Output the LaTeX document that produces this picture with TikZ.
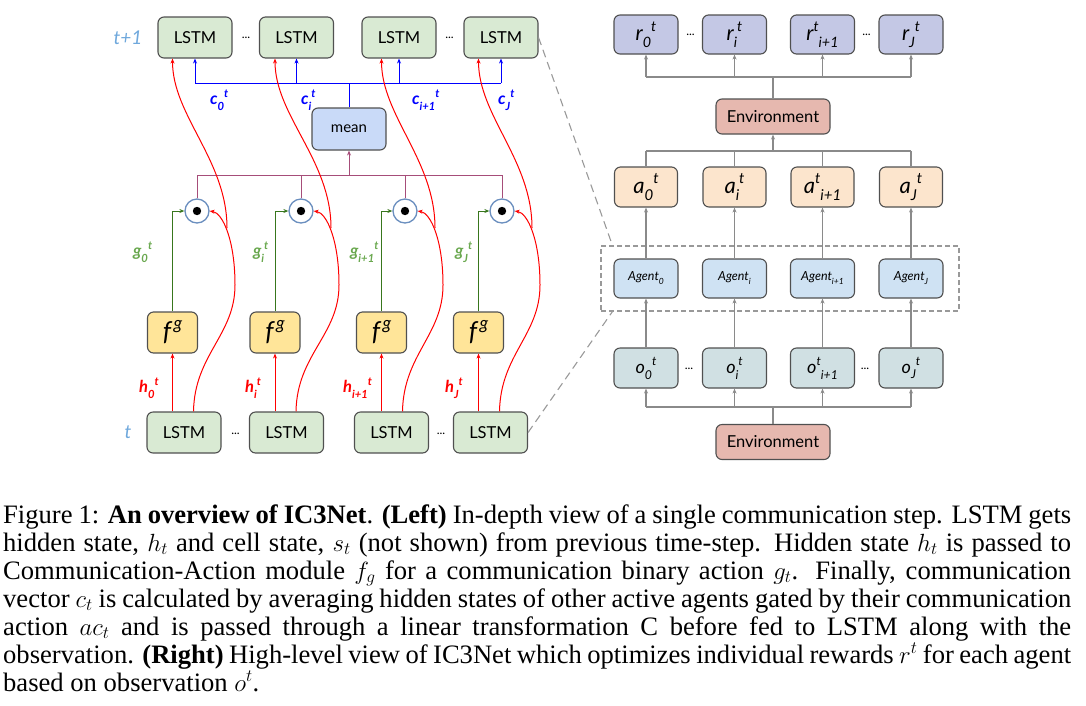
\documentclass[tikz,border=0pt]{standalone}
\usepackage{fontspec}
\usepackage{graphicx}
\setmainfont{Liberation Serif}
\newfontfamily\lato{Lato}
\usetikzlibrary{arrows.meta,calc}
\definecolor{lstmc}{HTML}{D9EAD3}
\definecolor{fgc}{HTML}{FFE599}
\definecolor{meanc}{HTML}{C9DAF8}
\definecolor{rc}{HTML}{C4C8E5}
\definecolor{ac}{HTML}{FCE5CD}
\definecolor{agc}{HTML}{CFE2F3}
\definecolor{oc}{HTML}{D0E0E3}
\definecolor{envc}{HTML}{E6B8AF}
\definecolor{bord}{HTML}{505050}
\definecolor{tlab}{HTML}{6FA8DC}
\definecolor{bluel}{HTML}{0000FF}
\definecolor{greenl}{HTML}{38761D}
\definecolor{greenlab}{HTML}{6AA84F}
\definecolor{redl}{HTML}{FF0000}
\definecolor{purpl}{HTML}{A64D79}
\definecolor{circc}{HTML}{6B8FBF}
\definecolor{grayl}{HTML}{8A8A8A}
\definecolor{dashc}{HTML}{999999}
\newcommand\SubSup[3]{#1\raisebox{-0.32em}{\scalebox{0.68}{#2}}\raisebox{0.45em}{\scalebox{0.68}{#3}}}
\newcommand\SupSub[3]{#1\raisebox{0.45em}{\scalebox{0.68}{#2}}\raisebox{-0.32em}{\scalebox{0.68}{#3}}}
\newcommand\FG{f\kern2.5pt\raisebox{0.42em}{\scalebox{0.68}{g}}}
\newcommand\capline[1]{\makebox[1068pt][s]{#1}}
\begin{document}
\begin{tikzpicture}[x=1pt,y=-1pt,
  bx/.style={draw=bord, line width=1.1pt, rounded corners=6pt, inner sep=0pt, font=\lato\fontsize{16.5}{18}\selectfont},
  lstmbox/.style={bx, fill=lstmc, minimum width=74pt, minimum height=41pt},
  fgbox/.style={bx, fill=fgc, minimum width=50pt, minimum height=41pt, font=\lato\itshape\fontsize{26}{28}\selectfont},
  meanbox/.style={bx, fill=meanc, minimum width=74pt, minimum height=42pt, font=\lato\fontsize{15}{17}\selectfont},
  rbox/.style={bx, fill=rc, minimum width=64pt, minimum height=39pt, font=\lato\itshape\fontsize{21}{23}\selectfont},
  abox/.style={bx, fill=ac, minimum width=63pt, minimum height=40pt, font=\lato\itshape\fontsize{22}{24}\selectfont},
  agbox/.style={bx, fill=agc, minimum width=64pt, minimum height=39pt, font=\lato\itshape\fontsize{12.5}{14}\selectfont},
  obox/.style={bx, fill=oc, minimum width=64pt, minimum height=40pt, font=\lato\itshape\fontsize{18}{20}\selectfont},
  envbox/.style={bx, fill=envc, minimum width=114pt, minimum height=35pt},
  odot/.style={circle, draw=circc, line width=1.3pt, fill=white, minimum size=24pt, inner sep=0pt},
  arr/.style={-{Stealth[length=5pt,width=4pt]}},
  dots/.style={font=\lato\fontsize{12}{12}\selectfont, inner sep=0pt},
  tl/.style={font=\lato\itshape\fontsize{19}{20}\selectfont, text=tlab, inner sep=0pt},
  clab/.style={font=\lato\bfseries\itshape\fontsize{16.5}{18}\selectfont, text=bluel, anchor=west, inner sep=0pt},
  glab/.style={font=\lato\bfseries\itshape\fontsize{16.5}{18}\selectfont, text=greenlab, anchor=west, inner sep=0pt},
  hlab/.style={font=\lato\bfseries\itshape\fontsize{16.5}{18}\selectfont, text=redl, anchor=west, inner sep=0pt},
  bline/.style={draw=bluel, line width=1pt},
  pline/.style={draw=purpl, line width=1pt},
  gline/.style={draw=greenl, line width=1pt},
  rline/.style={draw=redl, line width=1pt},
  gyline/.style={draw=grayl, line width=1.1pt},
  dline/.style={draw=dashc, line width=1.1pt, dash pattern=on 8pt off 5pt},
  capt/.style={anchor=base west, inner sep=0pt, font=\fontsize{26.6}{28}\selectfont}
]
\useasboundingbox (0,0) rectangle (1086,705);

% ---------------- Left part ----------------
\foreach \k/\xt/\xc/\xf/\xb in {0/195/197/172.5/184, 1/296.5/301/275/286.5, 2/399/405/381.5/391.5, 3/501/502/478.5/490.5} {
  \node[lstmbox] (T\k) at (\xt,37.5) {LSTM};
  \node[odot] (C\k) at (\xc,211) {};
  \node[fgbox] (F\k) at (\xf,332.5) {\FG};
  \node[lstmbox] (B\k) at (\xb,432.5) {LSTM};
}
\node[meanbox] (M) at (349,129) {mean};

\node[tl] (tp1) at (128,37.5) {t+1};
\node[tl] (tt) at (128,432.5) {t};
\node[dots] (d1) at (246,37.5) {...};
\node[dots] (d2) at (449.5,37.5) {...};
\node[dots] (d3) at (235.5,434) {...};
\node[dots] (d4) at (441,434) {...};

% blue bus
\coordinate (bbus) at (349,83);
\draw[bline] (M.north) -- (bbus);
\draw[bline] (T0 |- bbus) -- (T3 |- bbus);
% purple bus
\coordinate (pbus) at (349,175);
\draw[pline] (C0 |- pbus) -- (C3 |- pbus);
\draw[pline, arr] (pbus) -- (M.south);

\foreach \k in {0,1,2,3} {
  \draw[bline, arr] (T\k |- bbus) -- (T\k.south);
  \draw[pline] (C\k.north) -- (C\k |- pbus);
  \fill (C\k) circle (4.2pt);
  \draw[gline, arr] (F\k.north) |- (C\k.west);
  \draw[rline, arr] (B\k.north -| F\k) -- (F\k.south);
  \coordinate (ha\k) at ($(B\k.north -| F\k)+(21,0)$);
  \coordinate (bu\k) at ($(C\k)+(38,74)$);
  \coordinate (hb\k) at ($(C\k)+(30,17)$);
  \draw[rline, arr] (ha\k) .. controls +(1,-57) and +(0,50) .. (bu\k) .. controls +(0,-45) and +(13,2) .. (C\k.east);
  \draw[rline, arr] (hb\k) .. controls +(0,-68) and +(0,57) .. (T\k.south -| F\k);
}

\node[clab] (lc0) at (210,100) {\SubSup{c}{0}{t}};
\node[clab] (lc1) at (301,100) {\SubSup{c}{i}{t}};
\node[clab] (lc2) at (412,100) {\SubSup{c}{i+1}{t}};
\node[clab] (lc3) at (498,100) {\SubSup{c}{J}{t}};

\node[glab] (lg0) at (133,252) {\SubSup{g}{0}{t}};
\node[glab] (lg1) at (253,252) {\SubSup{g}{i}{t}};
\node[glab] (lg2) at (350,252) {\SubSup{g}{i+1}{t}};
\node[glab] (lg3) at (455,252) {\SubSup{g}{J}{t}};

\node[hlab] (lh0) at (139,388) {\SubSup{h}{0}{t}};
\node[hlab] (lh1) at (245,388) {\SubSup{h}{i}{t}};
\node[hlab] (lh2) at (343,388) {\SubSup{h}{i+1}{t}};
\node[hlab] (lh3) at (445,388) {\SubSup{h}{J}{t}};

% ---------------- Right part ----------------
\node[rbox] (R0) at (646,34.5) {\SubSup{r}{0}{t}};
\node[rbox] (R1) at (734.5,34.5) {\SubSup{r}{i}{t}};
\node[rbox] (R2) at (822.5,34.5) {\SupSub{r}{t}{i+1}};
\node[rbox] (R3) at (911,34.5) {\SubSup{r}{J}{t}};
\node[dots] (d5) at (690.5,34.5) {...};
\node[dots] (d6) at (866.5,34.5) {...};

\node[envbox] (E1) at (773,116.5) {Environment};

\node[abox] (A0) at (646,187) {\SubSup{a}{0}{t}};
\node[abox] (A1) at (734.5,187) {\SubSup{a}{i}{t}};
\node[abox] (A2) at (822.5,187) {\SupSub{a}{t}{i+1}};
\node[abox] (A3) at (911,187) {\SubSup{a}{J}{t}};

\node[draw=dashc, line width=1.1pt, dash pattern=on 5pt off 3pt, minimum width=358pt, minimum height=65pt, inner sep=0pt] (DB) at (780,278.5) {};

\node[agbox] (G0) at (646,278.5) {\SubSup{Agent}{0}{}};
\node[agbox] (G1) at (734.5,278.5) {\SubSup{Agent}{i}{}};
\node[agbox] (G2) at (822.5,278.5) {\SubSup{Agent}{i+1}{}};
\node[agbox] (G3) at (911,278.5) {\SubSup{Agent}{J}{}};

\node[obox] (O0) at (646,368) {\SubSup{o}{0}{t}};
\node[obox] (O1) at (734.5,368) {\SubSup{o}{i}{t}};
\node[obox] (O2) at (822.5,368) {\SupSub{o}{t}{i+1}};
\node[obox] (O3) at (911,368) {\SubSup{o}{J}{t}};
\node[dots] (d7) at (689,369) {...};
\node[dots] (d8) at (865,369) {...};

\node[envbox] (E2) at (773,442) {Environment};

\coordinate (rbus) at (773,77);
\coordinate (abus) at (773,151);
\coordinate (obus) at (773,407);
\draw[gyline] (E1.north) -- (rbus);
\draw[gyline] (R0 |- rbus) -- (R3 |- rbus);
\draw[gyline] (A0 |- abus) -- (A3 |- abus);
\draw[gyline, arr] (abus) -- (E1.south);
\draw[gyline] (E2.north) -- (obus);
\draw[gyline] (O0 |- obus) -- (O3 |- obus);
\foreach \k in {0,1,2,3} {
  \draw[gyline, arr] (R\k |- rbus) -- (R\k.south);
  \draw[gyline] (A\k.north) -- (A\k |- abus);
  \draw[gyline, arr] (G\k.north) -- (A\k.south);
  \draw[gyline, arr] (O\k.north) -- (G\k.south);
  \draw[gyline, arr] (O\k |- obus) -- (O\k.south);
}

% zoom lines
\draw[dline] (T3.east) -- ($(DB.north west)+(12,0)$);
\draw[dline] (B3.east) -- ($(DB.south west)+(12,0)$);

% ---------------- Caption ----------------
\node[capt] (c1) at (3,523) {\capline{Figure 1: \textbf{An overview of IC3Net}. \textbf{(Left)} In-depth view of a single communication step. LSTM gets}};
\node[capt] (c2) at (3,551) {\capline{hidden state, $h_t$ and cell state, $s_t$ (not shown) from previous time-step. Hidden state $h_t$ is passed to}};
\node[capt] (c3) at (3,579) {\capline{Communication-Action module $f_g$ for a communication binary action $g_t$. Finally, communication}};
\node[capt] (c4) at (3,607) {\capline{vector $c_t$ is calculated by averaging hidden states of other active agents gated by their communication}};
\node[capt] (c5) at (3,635) {\capline{action $ac_t$ and is passed through a linear transformation C before fed to LSTM along with the}};
\node[capt] (c6) at (3,663) {\capline{observation. \textbf{(Right)} High-level view of IC3Net which optimizes individual rewards $r^t$ for each agent}};
\node[capt] (c7) at (3,691) {based on observation $o^t$.};
\end{tikzpicture}
\end{document}
